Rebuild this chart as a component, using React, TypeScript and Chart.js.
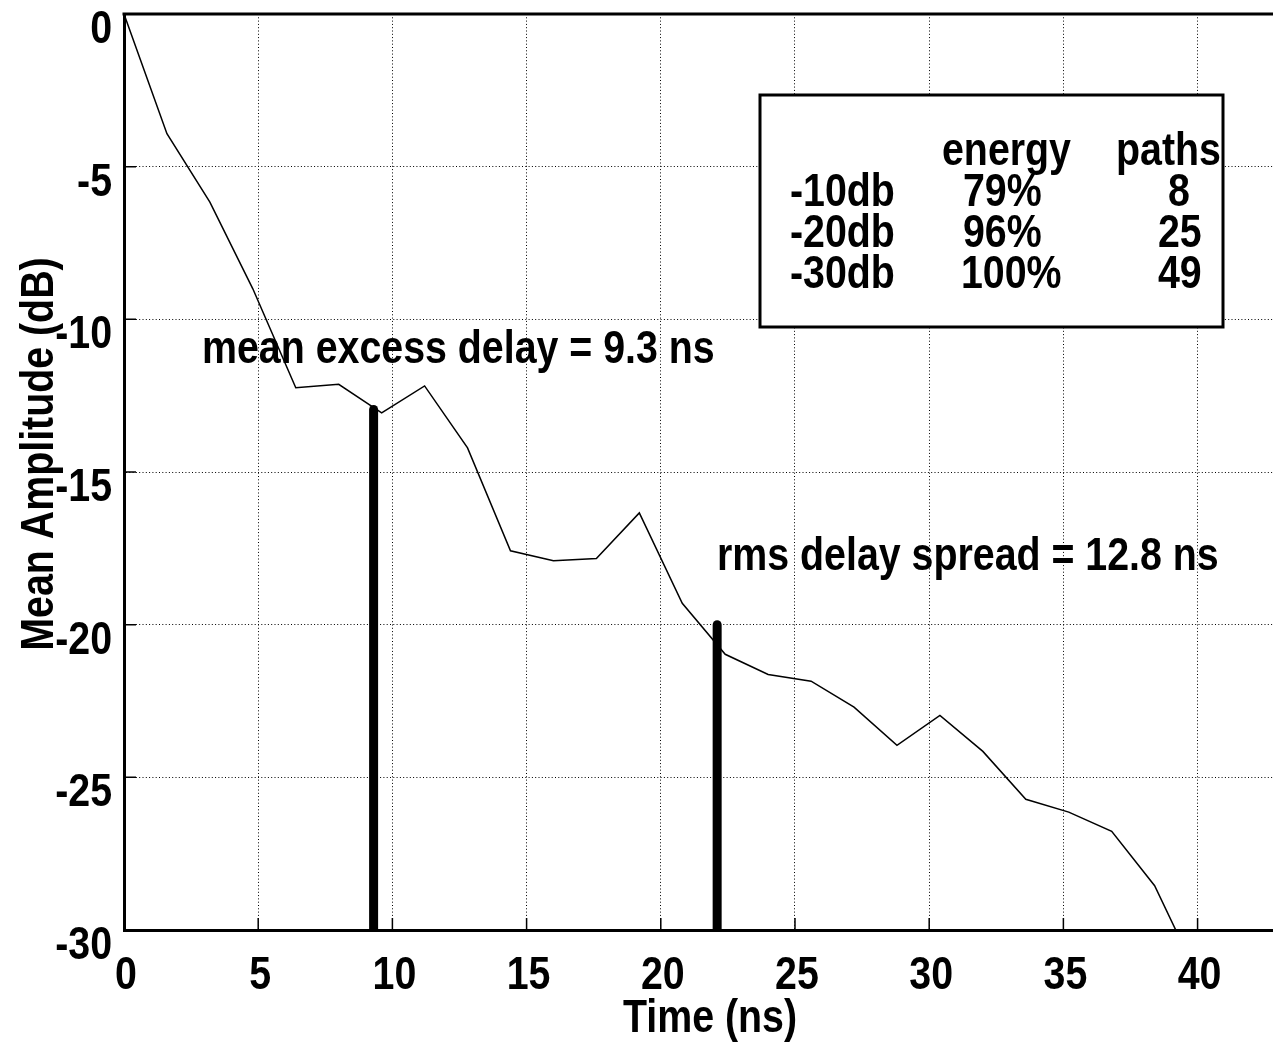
import React, { useEffect, useRef } from "react";
import { Chart, registerables } from "chart.js";

Chart.register(...registerables);

// Power delay profile: mean amplitude sampled every 1.6 ns
const timeNs = [
  0, 1.6, 3.2, 4.8, 6.4, 8.0, 9.6, 11.2, 12.8, 14.4, 16.0, 17.6, 19.2,
  20.8, 22.4, 24.0, 25.6, 27.2, 28.8, 30.4, 32.0, 33.6, 35.2, 36.8, 38.4, 40.0,
];
const meanAmplitudeDb = [
  0, -3.92, -6.16, -9.0, -12.24, -12.13, -13.06, -12.18, -14.21, -17.58, -17.91,
  -17.83, -16.34, -19.3, -20.97, -21.63, -21.85, -22.7, -23.95, -22.97, -24.15,
  -25.72, -26.14, -26.77, -28.55, -31.5,
];

// Delay markers
const meanExcessDelayNs = 9.3;
const rmsDelaySpreadNs = 12.8;
const meanMarkerTopDb = -12.95;
const rmsMarkerTopDb = -20;
const floorDb = -30;

// Axis ticks
const xTicks = [0, 5, 10, 15, 20, 25, 30, 35, 40];
const yTicks = [0, -5, -10, -15, -20, -25, -30];
const xTickLabels = ["0", "5", "10", "15", "20", "25", "30", "35", "40"];
const yTickLabels = ["0", "-5", "-10", "-15", "-20", "-25", "-30"];
const xMin = 0;
const xMax = 42.81;

// Threshold table
const tableHeader = ["energy", "paths"];
const thresholdLabels = ["-10db", "-20db", "-30db"];
const energyShares = ["79%", "96%", "100%"];
const pathCounts = ["8", "25", "49"];

// Narrow sans: Liberation Sans Bold squeezed horizontally
const FONT = 'bold 46px "Liberation Sans", Arial, sans-serif';
const SQUEEZE = 0.855;

function narrowText(
  ctx: CanvasRenderingContext2D,
  text: string,
  x: number,
  y: number,
  align: CanvasTextAlign = "left",
  rotate = 0
) {
  ctx.save();
  ctx.translate(x, y);
  if (rotate) ctx.rotate(rotate);
  ctx.scale(SQUEEZE, 1);
  ctx.font = FONT;
  ctx.textAlign = align;
  ctx.textBaseline = "alphabetic";
  ctx.fillStyle = "#000";
  ctx.fillText(text, 0, 0);
  ctx.restore();
}

const decorations = {
  id: "decorations",
  afterDraw(chart: any) {
    const { ctx, chartArea, scales } = chart;
    const xs = scales.x;
    const ys = scales.y;
    ctx.save();

    // top frame line
    ctx.strokeStyle = "#000";
    ctx.lineWidth = 3;
    ctx.beginPath();
    ctx.moveTo(chartArea.left - 1.5, chartArea.top);
    ctx.lineTo(chartArea.right, chartArea.top);
    ctx.stroke();

    // inward tick marks
    ctx.lineWidth = 1.5;
    ctx.beginPath();
    xTicks.forEach((v) => {
      if (v === xMin) return;
      const px = xs.getPixelForValue(v);
      ctx.moveTo(px, chartArea.bottom);
      ctx.lineTo(px, chartArea.bottom - 12);
    });
    yTicks.forEach((v) => {
      if (v === floorDb || v === 0) return;
      const py = ys.getPixelForValue(v);
      ctx.moveTo(chartArea.left, py);
      ctx.lineTo(chartArea.left + 12, py);
    });
    ctx.stroke();

    // tick labels
    xTicks.forEach((v, i) => {
      narrowText(ctx, xTickLabels[i], xs.getPixelForValue(v) + 2, chartArea.bottom + 59, "center");
    });
    yTicks.forEach((v, i) => {
      narrowText(ctx, yTickLabels[i], chartArea.left - 12, ys.getPixelForValue(v) + 29, "right");
    });

    // marker annotations
    narrowText(ctx, `mean excess delay = ${meanExcessDelayNs} ns`, 202, 363);
    narrowText(ctx, `rms delay spread = ${rmsDelaySpreadNs} ns`, 717, 570);

    // threshold table
    ctx.fillStyle = "#fff";
    ctx.fillRect(760, 95, 463, 232);
    ctx.strokeStyle = "#000";
    ctx.lineWidth = 3;
    ctx.strokeRect(760, 95, 463, 232);
    narrowText(ctx, tableHeader[0], 942, 165);
    narrowText(ctx, tableHeader[1], 1116, 165);
    const rowBase = [206, 247, 288];
    const pathX = [1168, 1158, 1158];
    thresholdLabels.forEach((lab, i) => {
      narrowText(ctx, lab, 790, rowBase[i]);
      narrowText(ctx, energyShares[i], i === 2 ? 961 : 963, rowBase[i]);
      narrowText(ctx, pathCounts[i], pathX[i], rowBase[i]);
    });

    // axis titles
    narrowText(ctx, "Time (ns)", 710, 1032, "center");
    narrowText(ctx, "Mean Amplitude (dB)", 53, 454, "center", -Math.PI / 2);

    ctx.restore();
  },
};

const whiteBackground = {
  id: "whiteBackground",
  beforeDraw(chart: any) {
    const { ctx, width, height } = chart;
    ctx.save();
    ctx.fillStyle = "#fff";
    ctx.fillRect(0, 0, width, height);
    ctx.restore();
  },
};

export default function App() {
  const canvasRef = useRef<HTMLCanvasElement | null>(null);

  useEffect(() => {
    const canvas = canvasRef.current;
    if (!canvas) return;

    const profile = timeNs.map((t, i) => ({ x: t, y: meanAmplitudeDb[i] }));
    const rmsPosition = meanExcessDelayNs + rmsDelaySpreadNs;

    const chart = new Chart(canvas, {
      type: "line",
      data: {
        datasets: [
          {
            label: "Mean amplitude",
            data: profile,
            borderColor: "#000",
            borderWidth: 1.5,
            pointRadius: 0,
            tension: 0,
            fill: false,
          },
          {
            label: "Mean excess delay",
            data: [
              { x: meanExcessDelayNs, y: floorDb },
              { x: meanExcessDelayNs, y: meanMarkerTopDb },
            ],
            borderColor: "#000",
            borderWidth: 9,
            borderCapStyle: "round",
            pointRadius: 0,
            fill: false,
          },
          {
            label: "RMS delay spread",
            data: [
              { x: rmsPosition, y: floorDb },
              { x: rmsPosition, y: rmsMarkerTopDb },
            ],
            borderColor: "#000",
            borderWidth: 9,
            borderCapStyle: "round",
            pointRadius: 0,
            fill: false,
          },
        ],
      },
      options: {
        responsive: false,
        animation: false,
        devicePixelRatio: 1,
        layout: { padding: { top: 14, left: 0, right: 0, bottom: 0 } },
        plugins: {
          legend: { display: false },
          tooltip: { enabled: false },
        },
        scales: {
          x: {
            type: "linear",
            min: xMin,
            max: xMax,
            afterBuildTicks: (scale: any) => {
              scale.ticks = xTicks.map((v) => ({ value: v }));
            },
            afterFit: (scale: any) => {
              scale.height = 114;
              scale.paddingLeft = 0;
              scale.paddingRight = 0;
              scale.paddingTop = 0;
              scale.paddingBottom = 0;
            },
            ticks: { display: false, autoSkip: false },
            grid: { color: "#000", lineWidth: 1, drawTicks: false },
            border: { display: true, color: "#000", width: 3, dash: [1, 2.3] },
          },
          y: {
            type: "linear",
            min: floorDb,
            max: 0,
            afterBuildTicks: (scale: any) => {
              scale.ticks = yTicks.map((v) => ({ value: v }));
            },
            afterFit: (scale: any) => {
              scale.width = 124;
              scale.paddingLeft = 0;
              scale.paddingRight = 0;
              scale.paddingTop = 0;
              scale.paddingBottom = 0;
            },
            ticks: { display: false, autoSkip: false },
            grid: { color: "#000", lineWidth: 1, drawTicks: false },
            border: { display: true, color: "#000", width: 3, dash: [1, 2.3] },
          },
        },
      },
      plugins: [whiteBackground, decorations],
    });

    return () => chart.destroy();
  }, []);

  return (
    <div style={{ position: "fixed", left: 0, top: 0, width: 1273, height: 1044, background: "#fff" }}>
      <canvas ref={canvasRef} width={1273} height={1044} />
    </div>
  );
}
